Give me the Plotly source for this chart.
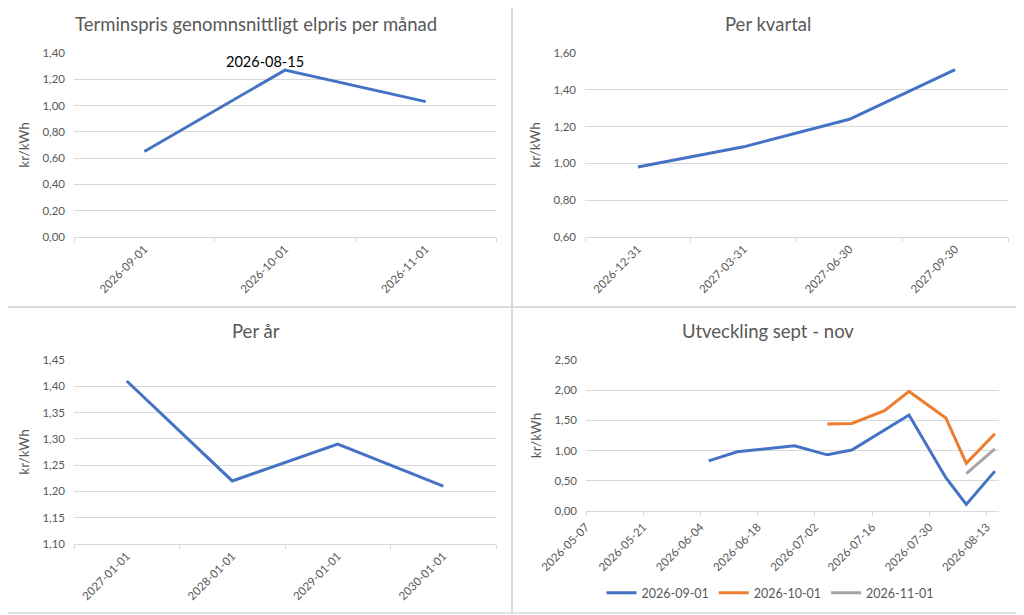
import plotly.graph_objects as go

# Terminspriser (kr/kWh), avlästa 2026-08-15
latest_date = "2026-08-15"

month_labels = ["2026-09-01", "2026-10-01", "2026-11-01"]
month_prices = [0.65, 1.27, 1.03]

quarter_labels = ["2026-12-31", "2027-03-31", "2027-06-30", "2027-09-30"]
quarter_prices = [0.98, 1.09, 1.24, 1.51]

year_labels = ["2027-01-01", "2028-01-01", "2029-01-01", "2030-01-01"]
year_prices = [1.41, 1.22, 1.29, 1.21]

# utveckling över tid för respektive månadskontrakt
sep_dates = ["2026-06-06", "2026-06-13", "2026-06-27", "2026-07-05", "2026-07-11",
             "2026-07-25", "2026-08-03", "2026-08-08", "2026-08-15"]
sep_prices = [0.83, 0.98, 1.08, 0.93, 1.01, 1.59, 0.55, 0.11, 0.66]

oct_dates = ["2026-07-05", "2026-07-11", "2026-07-19", "2026-07-25", "2026-08-03",
             "2026-08-08", "2026-08-15"]
oct_prices = [1.44, 1.45, 1.66, 1.98, 1.54, 0.79, 1.28]

nov_dates = ["2026-08-08", "2026-08-15"]
nov_prices = [0.62, 1.03]

BLUE, ORANGE, GRAY = "#4472C4", "#ED7D31", "#A5A5A5"
TXT = "#595959"
GRID = "#D9D9D9"
FONT = "Lato"

# sidan har 8 px marginal i body, figuren fyller resten av fönstret
OFF = 8
W, H = 1024 - OFF, 615 - OFF


def px(x):
    return (x - OFF) / W


def py(y):
    return 1 - (y - OFF) / H


fig = go.Figure()

fig.add_trace(go.Scatter(x=month_labels, y=month_prices, mode="lines",
                         line=dict(color=BLUE, width=3), showlegend=False,
                         xaxis="x", yaxis="y"))
fig.add_trace(go.Scatter(x=quarter_labels, y=quarter_prices, mode="lines",
                         line=dict(color=BLUE, width=3), showlegend=False,
                         xaxis="x2", yaxis="y2"))
fig.add_trace(go.Scatter(x=year_labels, y=year_prices, mode="lines",
                         line=dict(color=BLUE, width=3), showlegend=False,
                         xaxis="x3", yaxis="y3"))
for name, d, v, c in [(month_labels[0], sep_dates, sep_prices, BLUE),
                      (month_labels[1], oct_dates, oct_prices, ORANGE),
                      (month_labels[2], nov_dates, nov_prices, GRAY)]:
    fig.add_trace(go.Scatter(x=d, y=v, mode="lines", name=name,
                             line=dict(color=c, width=3),
                             xaxis="x4", yaxis="y4"))

tickfont = dict(family=FONT, size=11.5, color=TXT)

cat_x = dict(type="category", tickson="boundaries", ticks="outside", ticklen=4,
             tickcolor=GRID, showline=True, linecolor=GRID, showgrid=False,
             tickangle=-45, tickfont=tickfont, zeroline=False, automargin=False)


def yax(rng, dtick, dom, anchor):
    return dict(range=rng, dtick=dtick, tick0=rng[0], tickformat=".2f",
                showgrid=True, gridcolor=GRID, gridwidth=1, zeroline=False,
                showline=False, tickfont=tickfont, domain=dom, anchor=anchor,
                ticklabelstandoff=8, automargin=False,
                title=dict(text="kr/kWh", standoff=9,
                           font=dict(family=FONT, size=13.5, color=TXT)))


top_dom = [py(237), py(53)]
fig.update_layout(
    xaxis=dict(cat_x, domain=[px(74), px(496)], anchor="y", range=[-0.5, 2.5]),
    yaxis=yax([0, 1.4], 0.2, top_dom, "x"),
    xaxis2=dict(cat_x, domain=[px(585), px(1008)], anchor="y2", range=[-0.5, 3.5]),
    yaxis2=yax([0.6, 1.6], 0.2, top_dom, "x2"),
    xaxis3=dict(cat_x, domain=[px(74), px(496)], anchor="y3", range=[-0.5, 3.5]),
    yaxis3=yax([1.10, 1.45], 0.05, [py(544), py(360)], "x3"),
    xaxis4=dict(type="date", domain=[px(586), px(999)], anchor="y4",
                range=["2026-05-07", "2026-08-16"], tick0="2026-05-07",
                dtick=14 * 86400000, tickformat="%Y-%m-%d", ticks="outside",
                ticklen=4, tickcolor=GRID, showline=True, linecolor=GRID,
                showgrid=False, tickangle=-45, tickfont=tickfont,
                automargin=False),
    yaxis4=yax([0, 2.5], 0.5, [py(511), py(360)], "x4"),
    separators=",.",
    width=W, height=H,
    margin=dict(l=0, r=0, t=0, b=0, autoexpand=False),
    paper_bgcolor="white", plot_bgcolor="white",
    font=dict(family=FONT, color=TXT),
    legend=dict(orientation="h", x=px(770), xanchor="center", y=py(593),
                yanchor="middle", font=dict(family=FONT, size=12.5, color=TXT),
                itemwidth=30),
)

titles = [("Terminspris genomnsnittligt elpris per månad", 256, 24),
          ("Per kvartal", 768, 24),
          ("Per år", 256, 331),
          ("Utveckling sept - nov", 768, 331)]
for t, x, y in titles:
    fig.add_annotation(text=t, xref="paper", yref="paper", x=px(x), y=py(y),
                       xanchor="center", yanchor="middle", showarrow=False,
                       font=dict(family=FONT, size=18.5, color=TXT))

# datum för avläsning som dataetikett på toppen
fig.add_annotation(text=latest_date, xref="x", yref="y", x=month_labels[1],
                   y=month_prices[1], showarrow=False, xshift=-20, yshift=9,
                   font=dict(family=FONT, size=14.5, color="black"))

# ramar mellan diagrammen
for x0, y0, x1, y1 in [(1, 1, 512, 307), (512, 1, 1023, 307),
                       (1, 307, 512, 613), (512, 307, 1023, 613)]:
    fig.add_shape(type="rect", xref="paper", yref="paper",
                  x0=px(x0), x1=px(x1), y0=py(y0), y1=py(y1),
                  line=dict(color=GRID, width=1.5), layer="below")

fig.write_html("out.html")
